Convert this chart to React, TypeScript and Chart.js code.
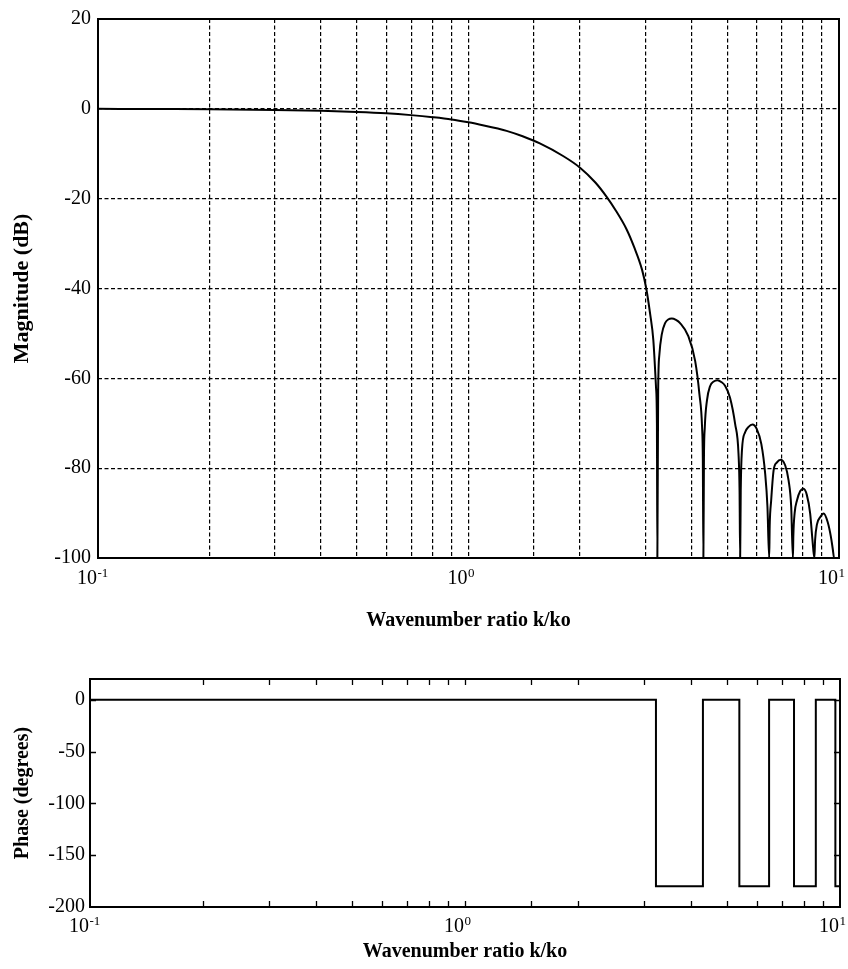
import React, { useEffect, useRef } from 'react';
import { Chart, registerables } from 'chart.js';

Chart.register(...registerables);

const FONT = '"Liberation Serif", "Times New Roman", serif';

// ---- Magnitude response ----
const magK = [
  0.1, 0.15, 0.2, 0.3, 0.4, 0.5, 0.6, 0.7, 0.8, 0.9,
  1.0, 1.1, 1.2, 1.267, 1.4, 1.558, 1.8, 2.0, 2.2, 2.36,
  2.5, 2.67, 2.8, 2.94, 3.02, 3.09, 3.154, 3.207, 3.225, 3.234,
  3.25, 3.275, 3.324, 3.393, 3.46, 3.537, 3.63, 3.724, 3.92, 4.09, 4.2, 4.27, 4.29, 4.305,
  4.32, 4.343, 4.4, 4.49, 4.59, 4.7, 4.81, 4.93, 5.08, 5.245, 5.355, 5.39, 5.41,
  5.43, 5.47, 5.58, 5.7, 5.84, 6.0, 6.17, 6.32, 6.41, 6.48,
  6.5, 6.56, 6.66, 6.8, 6.97, 7.16, 7.31, 7.43, 7.51,
  7.53, 7.59, 7.7, 7.86, 8.02, 8.19, 8.36, 8.48, 8.58,
  8.62, 8.72, 8.9, 9.09, 9.32, 9.51, 9.62, 9.7,
  10,
];
const magDb = [
  0, -0.05, -0.1, -0.25, -0.45, -0.7, -1.0, -1.4, -1.85, -2.35,
  -3.0, -3.7, -4.4, -4.9, -6.1, -7.7, -10.5, -13.1, -16.4, -19.6,
  -22.7, -26.8, -30.8, -35.8, -40.1, -45.5, -51.5, -62, -70, -100,
  -63, -54.7, -50.2, -47.7, -46.9, -46.7, -47.0, -47.7, -50.6, -56.1, -63.5, -70.9, -78, -100,
  -78, -70.9, -65, -61.7, -60.7, -60.4, -60.8, -61.7, -64.3, -70.2, -76.8, -85, -100,
  -85, -76.1, -72.0, -70.8, -70.3, -71.3, -74.6, -81.2, -88.6, -100,
  -93, -87.2, -80.5, -78.7, -78.1, -79.4, -82.7, -88.6, -100,
  -95, -90, -87.2, -85.1, -84.6, -86.0, -90.1, -96, -100,
  -96, -92.5, -90.9, -90.1, -92, -95.3, -98, -100,
  -100,
];

// ---- Phase response (step changes) ----
const phaseK = [0.1, 3.23, 4.31, 5.39, 6.47, 7.54, 8.62, 9.72, 10];
const phaseDeg = [0, -180, 0, -180, 0, -180, 0, -180, -180];

// ---- Axis settings ----
const xMin = 0.1;
const xMax = 10;
const magMin = -100;
const magMax = 20;
const magStep = 20;
const phaseMin = -200;
const phaseMax = 20;
const phaseTicks = [-200, -150, -100, -50, 0];

const xTitle = 'Wavenumber ratio k/ko';
const magTitle = 'Magnitude (dB)';
const phaseTitle = 'Phase (degrees)';

const framePlugin = {
  id: 'sciFrame',
  afterDraw(chart: any, _args: any, opts: any) {
    const { ctx, chartArea: a } = chart;
    const xs = chart.scales.x;
    const ys = chart.scales.y;
    ctx.save();
    ctx.strokeStyle = '#000';
    ctx.lineWidth = 2;
    ctx.strokeRect(a.left, a.top, a.right - a.left, a.bottom - a.top);

    if (opts.innerTicks) {
      const len = 6;
      ctx.lineWidth = 1.3;
      ctx.beginPath();
      for (const t of xs.ticks) {
        const x = Math.round(xs.getPixelForValue(t.value)) + 0.5;
        if (x <= a.left + 2 || x >= a.right - 2) continue;
        ctx.moveTo(x, a.bottom);
        ctx.lineTo(x, a.bottom - len);
        ctx.moveTo(x, a.top);
        ctx.lineTo(x, a.top + len);
      }
      for (const t of ys.ticks) {
        const y = Math.round(ys.getPixelForValue(t.value)) + 0.5;
        if (y <= a.top + 2 || y >= a.bottom - 2) continue;
        ctx.moveTo(a.left, y);
        ctx.lineTo(a.left + len, y);
        ctx.moveTo(a.right, y);
        ctx.lineTo(a.right - len, y);
      }
      ctx.stroke();
    }

    ctx.fillStyle = '#000';
    ctx.textBaseline = 'alphabetic';
    for (const t of xs.ticks) {
      const lg = Math.log10(t.value);
      const e = Math.round(lg);
      if (Math.abs(lg - e) > 1e-6) continue;
      const x = xs.getPixelForValue(t.value);
      const base = a.bottom + opts.labelDrop;
      ctx.font = `20px ${FONT}`;
      ctx.textAlign = 'right';
      ctx.fillText('10', x - 1, base);
      ctx.font = `13px ${FONT}`;
      ctx.textAlign = 'left';
      ctx.fillText(String(e), x - 0.5, base - 7);
    }
    ctx.restore();
  },
};

export default function App() {
  const topRef = useRef<HTMLCanvasElement | null>(null);
  const botRef = useRef<HTMLCanvasElement | null>(null);

  useEffect(() => {
    Chart.defaults.font.family = FONT;
    Chart.defaults.color = '#000';

    const gridStyle = { color: '#000', lineWidth: 1.2, drawTicks: false };
    const dashBorder = { display: false, dash: [4, 2.5] };

    const top = new Chart(topRef.current as HTMLCanvasElement, {
      type: 'scatter',
      data: {
        datasets: [
          {
            data: magK.map((k, i) => ({ x: k, y: magDb[i] })),
            showLine: true,
            borderColor: '#000',
            borderWidth: 2,
            pointRadius: 0,
            cubicInterpolationMode: 'monotone',
            fill: false,
          } as any,
        ],
      },
      options: {
        animation: false,
        responsive: false,
        events: [],
        layout: { padding: { left: 0, top: 16, right: 9, bottom: 0 } },
        plugins: {
          legend: { display: false },
          tooltip: { enabled: false },
          sciFrame: { labelDrop: 26, innerTicks: false },
        } as any,
        scales: {
          x: {
            type: 'logarithmic',
            min: xMin,
            max: xMax,
            grid: gridStyle,
            border: dashBorder,
            ticks: { display: false },
            title: {
              display: true,
              text: xTitle,
              color: '#000',
              font: { family: FONT, size: 20, weight: 'bold' },
              padding: { top: 0, bottom: 27 },
            },
            afterFit: (s: any) => {
              s.height = 102;
            },
          } as any,
          y: {
            type: 'linear',
            min: magMin,
            max: magMax,
            grid: gridStyle,
            border: dashBorder,
            ticks: {
              stepSize: magStep,
              color: '#000',
              font: { family: FONT, size: 20 },
              padding: 7,
            },
            title: {
              display: true,
              text: magTitle,
              color: '#000',
              font: { family: FONT, size: 22, weight: 'bold' },
              padding: { top: 9, bottom: 0 },
            },
            afterFit: (s: any) => {
              s.width = 98;
            },
          } as any,
        },
      },
      plugins: [framePlugin as any],
    });

    const bot = new Chart(botRef.current as HTMLCanvasElement, {
      type: 'scatter',
      data: {
        datasets: [
          {
            data: phaseK.map((k, i) => ({ x: k, y: phaseDeg[i] })),
            showLine: true,
            stepped: true,
            borderColor: '#000',
            borderWidth: 2,
            pointRadius: 0,
            fill: false,
          } as any,
        ],
      },
      options: {
        animation: false,
        responsive: false,
        events: [],
        layout: { padding: { left: 0, top: 19, right: 8, bottom: 0 } },
        plugins: {
          legend: { display: false },
          tooltip: { enabled: false },
          sciFrame: { labelDrop: 25, innerTicks: true },
        } as any,
        scales: {
          x: {
            type: 'logarithmic',
            min: xMin,
            max: xMax,
            grid: { display: false },
            border: { display: false },
            ticks: { display: false },
            title: {
              display: true,
              text: xTitle,
              color: '#000',
              font: { family: FONT, size: 20, weight: 'bold' },
              padding: { top: 0, bottom: 5 },
            },
            afterFit: (s: any) => {
              s.height = 62;
            },
          } as any,
          y: {
            type: 'linear',
            min: phaseMin,
            max: phaseMax,
            grid: { display: false, drawTicks: false },
            border: { display: false },
            ticks: {
              includeBounds: false,
              color: '#000',
              font: { family: FONT, size: 20 },
              padding: 5,
            },
            afterBuildTicks: (s: any) => {
              s.ticks = phaseTicks.map((v) => ({ value: v }));
            },
            title: {
              display: true,
              text: phaseTitle,
              color: '#000',
              font: { family: FONT, size: 20, weight: 'bold' },
              padding: { top: 11, bottom: 0 },
            },
            afterFit: (s: any) => {
              s.width = 90;
            },
          } as any,
        },
      },
      plugins: [framePlugin as any],
    });

    return () => {
      top.destroy();
      bot.destroy();
    };
  }, []);

  return (
    <div style={{ position: 'absolute', left: 0, top: 0, width: 848, height: 969, background: '#fff' }}>
      <canvas
        ref={topRef}
        width={848}
        height={660}
        style={{ position: 'absolute', left: 0, top: 0, width: 848, height: 660 }}
      />
      <canvas
        ref={botRef}
        width={848}
        height={309}
        style={{ position: 'absolute', left: 0, top: 660, width: 848, height: 309 }}
      />
    </div>
  );
}
